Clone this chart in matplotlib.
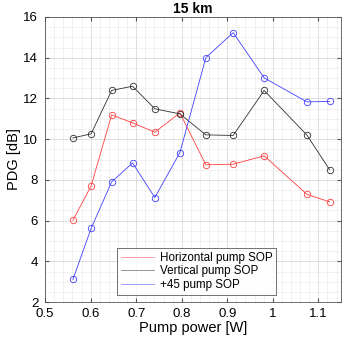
import matplotlib
matplotlib.use("Agg")
import matplotlib.pyplot as plt
from matplotlib.ticker import MultipleLocator, FuncFormatter

plt.rcParams['font.family'] = ['Liberation Sans', 'DejaVu Sans']

pump_power = [0.561, 0.601, 0.646, 0.692, 0.741, 0.796, 0.853, 0.913, 0.981, 1.075, 1.125]
horizontal = [6.02, 7.70, 11.19, 10.80, 10.34, 11.29, 8.74, 8.77, 9.18, 7.29, 6.92]
vertical = [10.06, 10.26, 12.39, 12.60, 11.49, 11.24, 10.21, 10.18, 12.39, 10.20, 8.49]
plus45 = [3.11, 5.62, 7.90, 8.83, 7.13, 9.34, 14.00, 15.23, 13.01, 11.83, 11.85]
labels = ['Horizontal pump SOP', 'Vertical pump SOP', '+45 pump SOP']
colors = ['#ff4040', '#303030', '#4040ff']

fig = plt.figure(figsize=(3.64, 3.46), dpi=100)
ax = fig.add_axes([0.124, 0.127, 0.813, 0.824])

for ys, lab, c in zip([horizontal, vertical, plus45], labels, colors):
    ax.plot(pump_power, ys, '-', color=c, lw=0.6, marker='o', ms=4.6,
            mfc='none', mec=c, mew=0.6, label=lab)

ax.set_xlim(0.5, 1.15)
ax.set_ylim(2, 16)
ax.xaxis.set_major_locator(MultipleLocator(0.1))
ax.xaxis.set_minor_locator(MultipleLocator(0.02))
ax.yaxis.set_major_locator(MultipleLocator(2))
ax.yaxis.set_minor_locator(MultipleLocator(0.5))
ax.xaxis.set_major_formatter(FuncFormatter(lambda v, p: ('%g' % round(v, 2))))
ax.grid(which='major', color='#d8d8d8', lw=0.6)
ax.grid(which='minor', color='#ececec', lw=0.5)
ax.set_axisbelow(True)
ax.tick_params(which='both', direction='in', top=True, right=True, labelsize=9.5, color='#555555')
ax.tick_params(which='minor', length=0)
ax.tick_params(which='major', length=3)
ax.tick_params(axis='y', pad=5)
ax.tick_params(axis='x', pad=4)
for s in ax.spines.values():
    s.set_color('#555555')
    s.set_linewidth(0.6)

ax.set_xlabel('Pump power [W]', fontsize=10.5, labelpad=1)
ax.set_ylabel('PDG [dB]', fontsize=10.5, labelpad=2)
ax.set_title('15 km', fontsize=10, fontweight='bold', pad=3)

leg = ax.legend(loc='lower left', bbox_to_anchor=(0.243, 0.024), fontsize=8.4,
                frameon=True, fancybox=False, handlelength=2.8, borderpad=0.35,
                labelspacing=0.15, handletextpad=0.5, borderaxespad=0)
leg.get_frame().set_edgecolor('#333333')
leg.get_frame().set_linewidth(0.6)
for h, c in zip(leg.get_lines(), colors):
    h.set_marker('')
    h.set_color(c)
    h.set_alpha(0.6)

fig.savefig('out.png', dpi=100)
